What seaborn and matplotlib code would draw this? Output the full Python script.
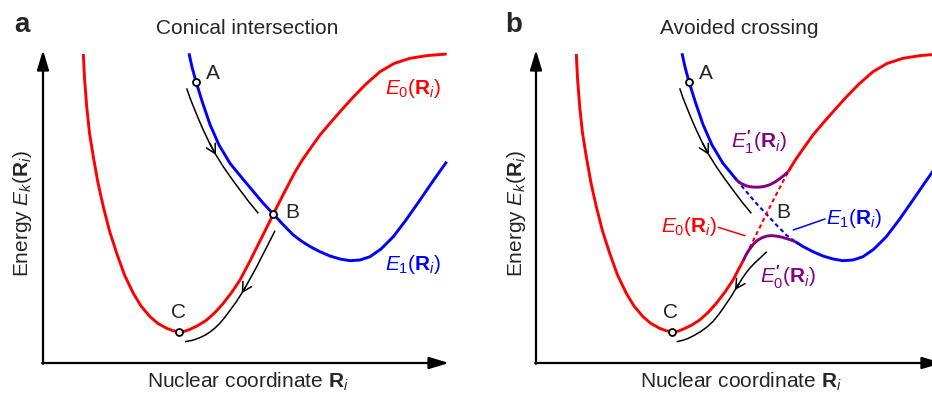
import numpy as np
import matplotlib
matplotlib.use("Agg")
import matplotlib.pyplot as plt
import seaborn as sns

# Style
sns.set_style("white")
plt.rcParams["font.family"] = ["Liberation Sans", "DejaVu Sans"]
plt.rcParams["mathtext.fontset"] = "custom"
plt.rcParams["mathtext.rm"] = "Liberation Sans"
plt.rcParams["mathtext.it"] = "Liberation Sans:italic"
plt.rcParams["mathtext.bf"] = "Liberation Sans:bold"

# Curve data (x from the energy axis, y up from the coordinate axis)
e0_x = [40.3, 41.5, 43.7, 46.5, 50.3, 55, 60.3, 66.5, 73.7, 81.5, 90.3, 98, 107, 115,
        123.7, 130, 136.3, 142, 147, 155, 163.7, 172, 180.3, 189, 197, 207, 213.7, 222,
        230.3, 241, 252, 259, 267, 277, 288, 299, 310.3, 323, 337, 351, 367, 385, 403.7]
e0_y = [309, 285, 256.3, 230, 206.3, 180, 156.3, 132, 109.7, 88, 69.7, 57, 46.3, 39.5,
        34.7, 32.3, 31.3, 31.8, 33.7, 37.5, 43, 50.5, 59.7, 71, 83, 102, 115.5, 132,
        149, 170, 191, 202.5, 214, 228, 241, 253.5, 266, 279, 291.3, 299.5, 304.7, 307.5, 309]

e1_x = [146, 149, 153, 159, 167, 176, 187, 200.7, 210.3, 220, 230.3, 240, 250.3, 259, 267,
        277, 287, 297, 307, 317, 327, 338, 350.3, 363, 377, 390, 403.7]
e1_y = [309.7, 296, 281.3, 262, 238.5, 218, 199.7, 183, 171.5, 160, 149, 138.5, 128, 121.5,
        116.5, 111.3, 107, 104, 102.3, 103, 106.3, 114, 126.3, 143, 163, 182, 201.3]

# Adiabatic (avoided crossing) curves
e1p_x = [200.7, 205, 210.7, 216, 222.3, 228, 234, 239, 244, 248, 252]
e1p_y = [183, 179.5, 177, 176, 175.8, 176.5, 178.3, 181, 184.5, 187.6, 191]
e0p_x = [207, 210, 213, 217, 221, 226, 231, 236, 241, 246, 252, 259]
e0p_y = [102, 108, 113, 118.5, 122.3, 125.3, 127, 127.4, 126.8, 125.8, 124, 121.5]

# Relaxation paths
path1_x = [143.7, 147, 151, 155.5, 160.3, 166.5, 173, 180.3, 188.5, 197, 206, 215.3]
path1_y = [274.7, 265, 255, 244, 233, 220, 208, 196.3, 184.5, 173, 161, 149.7]
path2a_x = [232, 228, 223, 218, 213.7, 210, 206, 202.5, 198.7, 193.5, 188, 182.5, 177,
            172, 167, 162, 157, 150, 142]
path2a_y = [132.3, 124.3, 114.5, 104.8, 96.3, 89.5, 82.3, 76, 69.7, 61.5, 54, 46.5, 39.9,
            35, 31, 27.8, 25.4, 22.8, 21.3]
path2b_x = [230.7, 226.5, 222, 218, 214, 210, 206.5, 203, 199, 194.5, 190, 186, 182.3,
            177, 171, 164, 158, 152, 146, 140.7]
path2b_y = [111.3, 107.3, 103, 99.3, 95, 90, 85, 79.3, 73, 65.5, 59, 53, 48,
            41.5, 36, 31, 27.5, 24.5, 22.5, 21.3]

# Points A, B, C
pt_x = [153, 230.3, 136.3]
pt_y = [281.3, 149, 31.3]

RED = "#FF0000"
BLUE = "#0000FF"
PURPLE = "#800080"

fig = plt.figure(figsize=(9.32, 3.94), dpi=100)
ax_a = fig.add_axes([0, 0, 0.5, 1])
ax_b = fig.add_axes([0.5, 0, 0.5, 1])
ax_a.set_xlim(-43, 423)
ax_b.set_xlim(-70, 396)
for ax in (ax_a, ax_b):
    ax.set_ylim(-31, 363)
    ax.axis("off")


def curve(ax, xs, ys, color, lw=2.1):
    sns.lineplot(x=xs, y=ys, sort=False, color=color, linewidth=lw, ax=ax,
                 solid_joinstyle="round", solid_capstyle="butt")


def axes_arrows(ax):
    head = dict(arrowstyle="-|>,head_length=0.6,head_width=0.18", mutation_scale=20,
                lw=1.6, color="black", shrinkA=0, shrinkB=0)
    ax.annotate("", xy=(0, 313), xytext=(0, -0.8), arrowprops=head)
    ax.annotate("", xy=(406, 0), xytext=(-0.8, 0), arrowprops=head, annotation_clip=False)
    ax.text(-20, 150, r"Energy $E_k(\mathbf{R}_i)$", rotation=90, ha="center", va="center",
            fontsize=15)
    ax.text(205, -19, r"Nuclear coordinate $\mathbf{R}_i$", ha="center", va="center",
            fontsize=15)


def path_arrow(ax, xs, ys, i):
    curve(ax, xs, ys, "black", lw=1.1)
    ax.annotate("", xy=(xs[i], ys[i]), xytext=(xs[i - 1], ys[i - 1]),
                arrowprops=dict(arrowstyle="->,head_length=0.55,head_width=0.3",
                                mutation_scale=12, lw=1.1, color="black",
                                shrinkA=0, shrinkB=0))


def points(ax, idx):
    ax.plot([pt_x[i] for i in idx], [pt_y[i] for i in idx], "o", ms=5, mfc="white",
            mec="black", mew=1.3, zorder=5)


# ---------------- Panel a: conical intersection ----------------
axes_arrows(ax_a)
curve(ax_a, e1_x, e1_y, BLUE)
curve(ax_a, e0_x, e0_y, RED)
path_arrow(ax_a, path1_x, path1_y, 6)
path_arrow(ax_a, path2a_x, path2a_y, 8)
points(ax_a, [0, 1, 2])

ax_a.text(170, 290, "A", ha="center", va="center", fontsize=15)
ax_a.text(249, 151, "B", ha="center", va="center", fontsize=15)
ax_a.text(135, 50, "C", ha="center", va="center", fontsize=15)
ax_a.text(370, 275, r"$E_0(\mathbf{R}_i)$", color=RED, ha="center", va="center", fontsize=15)
ax_a.text(370, 98, r"$E_1(\mathbf{R}_i)$", color=BLUE, ha="center", va="center", fontsize=15)
ax_a.text(204, 335, "Conical intersection", ha="center", va="center", fontsize=15)
ax_a.text(-21, 338, "a", ha="center", va="center", fontsize=20, fontweight="bold")

# ---------------- Panel b: avoided crossing ----------------
axes_arrows(ax_b)
i0, i1 = e0_x.index(207), e0_x.index(252)
j0, j1 = e1_x.index(200.7), e1_x.index(259)
curve(ax_b, e1_x[:j0 + 1], e1_y[:j0 + 1], BLUE)
curve(ax_b, e1_x[j1:], e1_y[j1:], BLUE)
ax_b.plot(e1_x[j0:j1 + 1], e1_y[j0:j1 + 1], color=BLUE, lw=1.5, ls=(0, (2, 1.5)))
curve(ax_b, e0_x[:i0 + 1], e0_y[:i0 + 1], RED)
curve(ax_b, e0_x[i1:], e0_y[i1:], RED)
ax_b.plot(e0_x[i0:i1 + 1], e0_y[i0:i1 + 1], color=RED, lw=1.5, ls=(0, (2, 1.5)))
curve(ax_b, e1p_x, e1p_y, PURPLE)
curve(ax_b, e0p_x, e0p_y, PURPLE)
path_arrow(ax_b, path1_x, path1_y, 6)
path_arrow(ax_b, path2b_x, path2b_y, 8)
points(ax_b, [0, 2])

ax_b.plot([182.3, 209], [135.7, 127.3], color=RED, lw=1.1)
ax_b.plot([257.3, 289], [133, 144], color=BLUE, lw=1.1)

ax_b.text(170, 290, "A", ha="center", va="center", fontsize=15)
ax_b.text(247, 151, "B", ha="center", va="center", fontsize=15)
ax_b.text(135, 50, "C", ha="center", va="center", fontsize=15)
ax_b.text(223, 221, r"$E^{\mathbf{\prime}}_1(\mathbf{R}_i)$", color=PURPLE, ha="center",
          va="center", fontsize=15)
ax_b.text(252, 86, r"$E^{\mathbf{\prime}}_0(\mathbf{R}_i)$", color=PURPLE, ha="center",
          va="center", fontsize=15)
ax_b.text(153, 137, r"$E_0(\mathbf{R}_i)$", color=RED, ha="center", va="center", fontsize=15)
ax_b.text(318, 145, r"$E_1(\mathbf{R}_i)$", color=BLUE, ha="center", va="center", fontsize=15)
ax_b.text(203, 335, "Avoided crossing", ha="center", va="center", fontsize=15)
ax_b.text(-22, 338, "b", ha="center", va="center", fontsize=20, fontweight="bold")

fig.savefig("out.png", dpi=100)
